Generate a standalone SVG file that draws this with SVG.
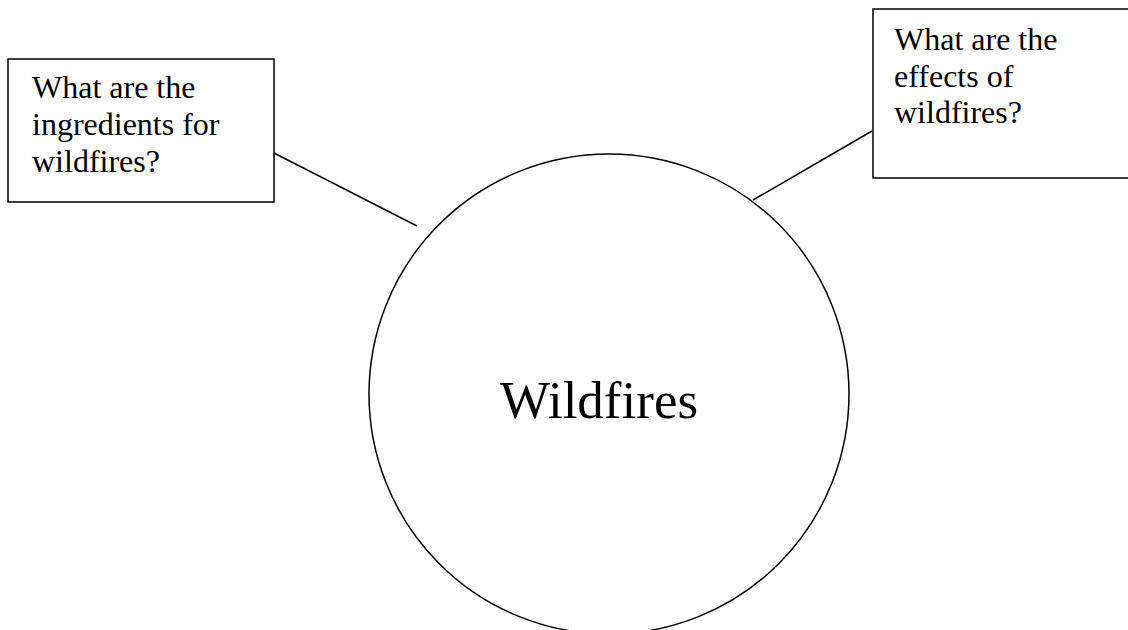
<svg xmlns="http://www.w3.org/2000/svg" width="1128" height="630" viewBox="0 0 1128 630">
<style>
.box{fill:#fff;stroke:#000;stroke-width:1.5}
.t{font-family:"Liberation Serif","Times New Roman",serif;font-size:32px;fill:#000}
.big{font-family:"Liberation Serif","Times New Roman",serif;font-size:53px;fill:#000}
.conn{stroke:#000;stroke-width:1.5;fill:none}
</style>
<rect width="1128" height="630" fill="#fff"/>
<g id="connectors">
<line class="conn" x1="274" y1="153" x2="417" y2="226"/>
<line class="conn" x1="872" y1="131" x2="753" y2="200"/>
</g>
<g id="center">
<circle class="box" cx="609" cy="394" r="240"/>
<text class="big" x="500" y="418">Wildfires</text>
</g>
<g id="ingredients">
<rect class="box" x="8" y="59" width="266" height="143"/>
<text class="t" x="32" y="98">What are the</text>
<text class="t" x="32" y="135">ingredients for</text>
<text class="t" x="32" y="172">wildfires?</text>
</g>
<g id="effects">
<rect class="box" x="873" y="9" width="270" height="169"/>
<text class="t" x="894" y="50">What are the</text>
<text class="t" x="894" y="87">effects of</text>
<text class="t" x="894" y="123">wildfires?</text>
</g>
</svg>
